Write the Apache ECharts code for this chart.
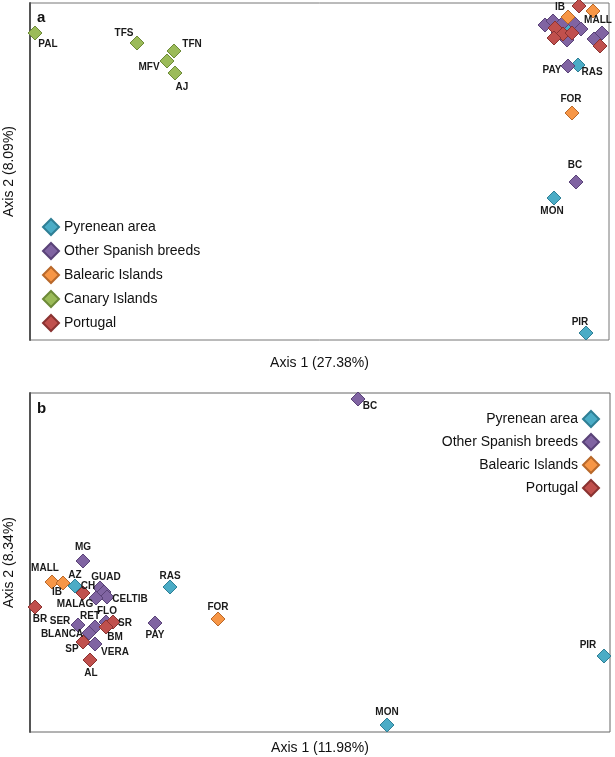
<!DOCTYPE html>
<html><head><meta charset="utf-8">
<script src="https://cdn.jsdelivr.net/npm/echarts@6/dist/echarts.min.js"></script>
<style>html,body{margin:0;padding:0;background:#fff}#c{width:615px;height:757px}</style>
</head><body><div id="c"></div>
<script>
// ---- DATA (arbitrary PCA units) ----
const groups = ['Pyrenean area','Other Spanish breeds','Balearic Islands','Canary Islands','Portugal'];
// Panel a: [axis1, axis2, label]
const aPyrenean = [[537,312,''],[548,275,'RAS'],[524,142,'MON'],[556,7,'PIR']];
const aSpanish  = [[515,315,''],[523,319,''],[533,317,''],[545,316,''],[551,311,''],[537,300,''],[528,307,''],[572,307,''],[564,301,''],[538,274,'PAY'],[546,158,'BC']];
const aBalearic = [[538,323,'IB'],[563,329,'MALL'],[542,227,'FOR']];
const aCanary   = [[5,307,'PAL'],[107,297,'TFS'],[144,289,'TFN'],[137,279,'MFV'],[145,267,'AJ']];
const aPortugal = [[549,334,''],[525,312,''],[533,306,''],[524,302,''],[542,307,''],[570,294,'']];
// Panel b
const bPyrenean = [[45,146,'AZ'],[140,145,'RAS'],[357,7,'MON'],[574,76,'PIR']];
const bSpanish  = [[53,171,'MG'],[70,144,'GUAD'],[74,140,''],[77,135,'CELTIB'],[66,134,'MALAG'],[48,107,'SER'],[65,105,'RET'],[76,110,'FLO'],[59,99,'BLANCA'],[65,88,'VERA'],[125,109,'PAY'],[328,333,'BC']];
const bBalearic = [[22,150,'MALL'],[33,149,'IB'],[188,113,'FOR']];
const bPortugal = [[53,139,'CH'],[5,125,'BR'],[83,110,'SR'],[76,105,'BM'],[53,90,'SP'],[60,72,'AL']];
const axisTitles = {a:['Axis 1 (27.38%)','Axis 2 (8.09%)'], b:['Axis 1 (11.98%)','Axis 2 (8.34%)']};

// ---- LAYOUT / STYLE ----
const FONT = 'Liberation Sans, Arial, sans-serif';
const colors = {
  'Pyrenean area':['#4bacc6','#2f7f95'],
  'Other Spanish breeds':['#8064a2','#5a4378'],
  'Balearic Islands':['#f79646','#b8682a'],
  'Canary Islands':['#9bbb59','#6d8a38'],
  'Portugal':['#c0504d','#8a3331']
};
const offA = {RAS:[14,7],MON:[-2,13],PIR:[-6,-11],PAY:[-16,4],BC:[-1,-17],IB:[-8,-10],MALL:[5,9],FOR:[-1,-14],
  PAL:[13,11],TFS:[-13,-10],TFN:[18,-7],MFV:[-18,6],AJ:[7,14]};
const offB = {AZ:[0,-11],RAS:[0,-11],MON:[0,-13],PIR:[-16,-11],MG:[0,-14],GUAD:[6,-11],CELTIB:[23,2],MALAG:[-21,6],
  SER:[-18,-4],RET:[-5,-11],FLO:[1,-11],BLANCA:[-27,1],VERA:[20,8],PAY:[0,12],BC:[12,7],MALL:[-7,-14],IB:[-6,9],
  FOR:[0,-12],CH:[5,-7],BR:[5,12],SR:[12,1],BM:[9,10],SP:[-11,7],AL:[1,13]};

function mk(name, pts, gi, offs){
  return {
    type:'scatter', name, xAxisIndex:gi, yAxisIndex:gi, symbol:'diamond', symbolSize:14, clip:false,
    itemStyle:{color:colors[name][0], borderColor:colors[name][1], borderWidth:1, opacity:1},
    emphasis:{disabled:true},
    data: pts.map(p=>({value:[p[0],p[1]], name:p[2],
      label:{show:!!p[2], position:'inside', offset:offs[p[2]]||[0,0], formatter:p[2]||''}})),
    label:{fontSize:10, fontWeight:'bold', color:'#1a1a1a', opacity:1, fontFamily:FONT},
    z: 2
  };
}

const W=579, HA=337, HB=339;
function axes(gi, W, H, t, gapX){
  return {
    x:{type:'value', gridIndex:gi, min:0, max:W, axisLine:{show:false}, axisTick:{show:false}, axisLabel:{show:false}, splitLine:{show:false},
       name:t[0], nameLocation:'middle', nameGap:gapX, nameTextStyle:{fontSize:14, color:'#111', fontFamily:FONT}},
    y:{type:'value', gridIndex:gi, min:0, max:H, axisLine:{show:true, lineStyle:{color:'#555', width:2}}, axisTick:{show:false}, axisLabel:{show:false}, splitLine:{show:false},
       name:t[1], nameLocation:'middle', nameGap:14, nameTextStyle:{fontSize:14, color:'#111', fontFamily:FONT}}
  };
}
const ax0 = axes(0, W, HA, axisTitles.a, 16), ax1 = axes(1, 580, HB, axisTitles.b, 9);

const option = {
  animation:false,
  textStyle:{fontFamily:FONT},
  title:[
    {text:'a', left:37, top:10, padding:0, textStyle:{fontSize:15, fontWeight:'bold', color:'#111', fontFamily:FONT}},
    {text:'b', left:37, top:401, padding:0, textStyle:{fontSize:15, fontWeight:'bold', color:'#111', fontFamily:FONT}}
  ],
  grid:[
    {left:30, top:3, width:W, height:HA, show:true, borderColor:'#777', borderWidth:1, backgroundColor:'transparent', outerBoundsMode:'none', containLabel:false},
    {left:30, top:393, width:580, height:HB, show:true, borderColor:'#666', borderWidth:1, backgroundColor:'transparent', outerBoundsMode:'none', containLabel:false}
  ],
  xAxis:[ax0.x, ax1.x],
  yAxis:[ax0.y, ax1.y],
  legend:[
    {orient:'vertical', left:42, top:218, padding:0, itemWidth:16, itemHeight:16, itemGap:6, itemSymbolTextGap:3, icon:'diamond',
     textStyle:{fontSize:14, color:'#111', fontFamily:FONT, lineHeight:16}, data:groups, selectedMode:false},
    {orient:'vertical', right:15, top:410, padding:0, align:'right', itemWidth:16, itemHeight:16, itemGap:5, icon:'diamond',
     textStyle:{fontSize:14, color:'#111', fontFamily:FONT, lineHeight:16}, data:['Pyrenean area','Other Spanish breeds','Balearic Islands','Portugal'], selectedMode:false}
  ],
  series:[
    mk('Pyrenean area', aPyrenean, 0, offA),
    mk('Other Spanish breeds', aSpanish, 0, offA),
    mk('Balearic Islands', aBalearic, 0, offA),
    mk('Canary Islands', aCanary, 0, offA),
    mk('Portugal', aPortugal, 0, offA),
    mk('Pyrenean area', bPyrenean, 1, offB),
    mk('Other Spanish breeds', bSpanish, 1, offB),
    mk('Balearic Islands', bBalearic, 1, offB),
    mk('Portugal', bPortugal, 1, offB)
  ]
};
const chart = echarts.init(document.getElementById('c'), null, {renderer:'canvas'});
chart.setOption(option);
</script></body></html>
